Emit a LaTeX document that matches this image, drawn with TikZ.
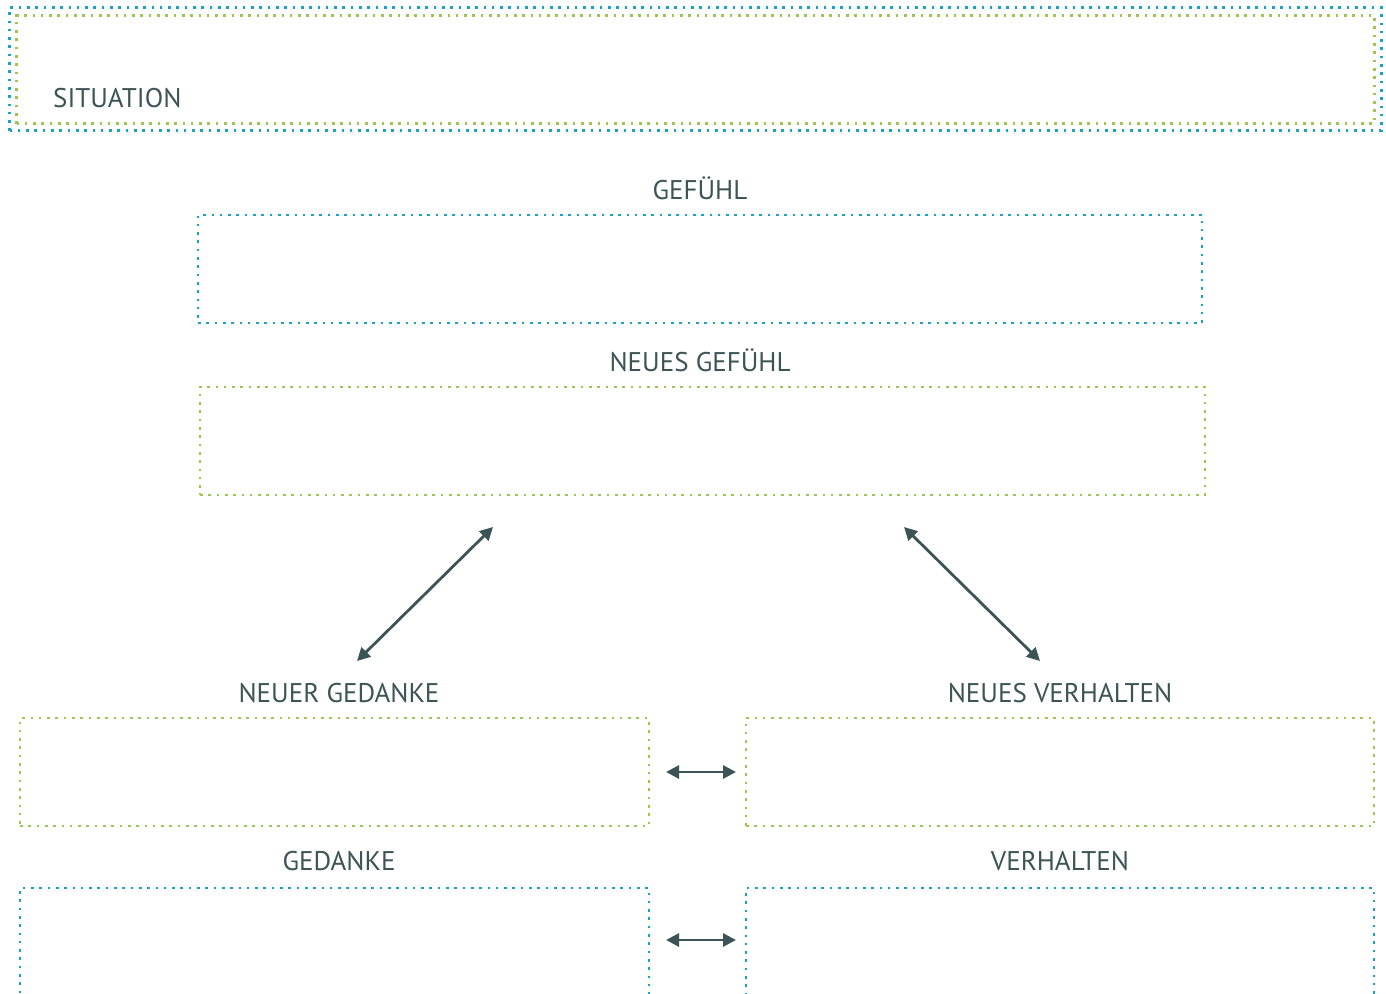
\documentclass[tikz,border=0pt]{standalone}
\usepackage{fontspec}
\setmainfont{PT Sans}
\usetikzlibrary{arrows.meta}
\definecolor{dotblue}{HTML}{1BA3C6}
\definecolor{dotgreen}{HTML}{9CC653}
\definecolor{ink}{HTML}{3D5457}
\tikzset{
  frame/.style={draw, line width=2.6pt, dash pattern=on 2.6pt off 5.7pt, line cap=butt,
    rectangle, inner sep=0pt, outer sep=0pt, anchor=north west},
  bluebox/.style={frame, dotblue},
  greenbox/.style={frame, dotgreen},
  label/.style={text=ink, font=\fontsize{27}{29}\selectfont, inner sep=0pt, anchor=base},
  link/.style={draw=ink, line width=2.8pt, {Triangle[length=13pt,width=13pt]}-{Triangle[length=13pt,width=13pt]}},
}
\begin{document}
\begin{tikzpicture}[x=1pt, y=-1pt]
  \useasboundingbox (0,0) rectangle (1386,993);
  \fill[white] (0,0) rectangle (1386,993);

  % situation frame (double dotted outline)
  \node[bluebox, minimum width=1372pt, minimum height=123pt] (sitout) at (9.5,7.5) {};
  \node[greenbox, minimum width=1358pt, minimum height=108pt] (sitin) at (16.5,15.5) {};
  \node[label, anchor=base west] (sit) at (53,107) {SITUATION};

  % feelings
  \node[label] (gef) at (700,199) {GEFÜHL};
  \node[bluebox, minimum width=1004pt, minimum height=108pt] (gefbox) at (198,215) {};
  \node[label] (ngef) at (700,371) {NEUES GEFÜHL};
  \node[greenbox, minimum width=1005pt, minimum height=108pt] (ngefbox) at (200,387) {};

  % thoughts and behaviour
  \node[label] (nged) at (339,702) {NEUER GEDANKE};
  \node[greenbox, minimum width=629pt, minimum height=108pt] (ngedbox) at (20,718) {};
  \node[label] (nver) at (1060,702) {NEUES VERHALTEN};
  \node[greenbox, minimum width=628pt, minimum height=108pt] (nverbox) at (746,718) {};

  \node[label] (ged) at (339,870) {GEDANKE};
  \node[bluebox, minimum width=629pt, minimum height=150pt] (gedbox) at (20,888) {};
  \node[label] (ver) at (1060,870) {VERHALTEN};
  \node[bluebox, minimum width=628pt, minimum height=150pt] (verbox) at (746,888) {};

  % arrow end points
  \coordinate (a1) at (357,661);
  \coordinate (a2) at (493,527);
  \coordinate (b1) at (904,527);
  \coordinate (b2) at (1040,661);
  \coordinate (c1) at (666,772);
  \coordinate (c2) at (736,772);
  \coordinate (d1) at (666,940);
  \coordinate (d2) at (736,940);

  \draw[link] (a1) -- (a2);
  \draw[link] (b1) -- (b2);
  \draw[link] (c1) -- (c2);
  \draw[link] (d1) -- (d2);
\end{tikzpicture}
\end{document}
